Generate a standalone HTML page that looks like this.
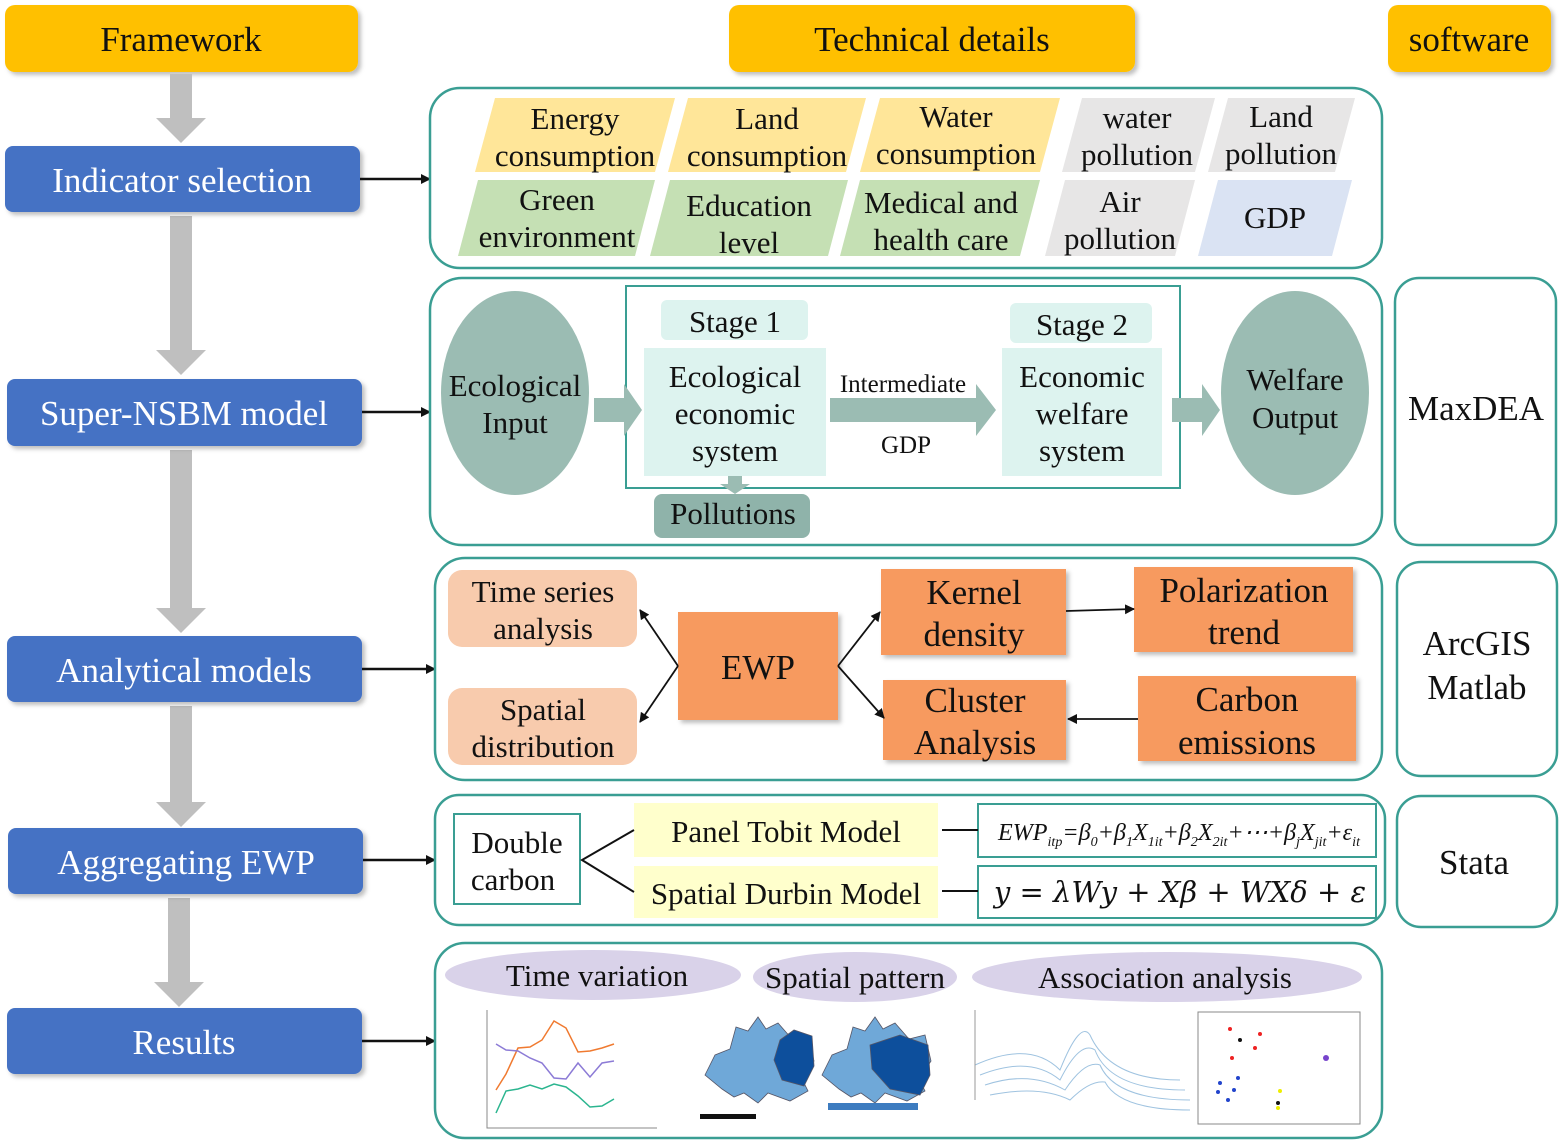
<!DOCTYPE html>
<html><head><meta charset="utf-8"><style>
html,body{margin:0;padding:0;background:#fff}
svg{display:block}
text{font-family:"Liberation Serif",serif;fill:#111}
.w{fill:#fff}
</style></head><body>
<svg width="1563" height="1142" viewBox="0 0 1563 1142" xmlns="http://www.w3.org/2000/svg">
<defs>
<marker id="ah" markerWidth="10" markerHeight="10" refX="9" refY="5" orient="auto" markerUnits="userSpaceOnUse"><path d="M0,0 L10,5 L0,10 z" fill="#111"/></marker>
<filter id="sh" x="-5%" y="-10%" width="115%" height="130%"><feDropShadow dx="3" dy="3" stdDeviation="2" flood-color="#000" flood-opacity="0.25"/></filter>
</defs>

<!-- headers -->
<rect x="5" y="5" width="353" height="67" rx="10" fill="#FFC000" filter="url(#sh)"/>
<text x="181" y="51" font-size="35" text-anchor="middle">Framework</text>
<rect x="729" y="5" width="406" height="67" rx="10" fill="#FFC000" filter="url(#sh)"/>
<text x="932" y="51" font-size="35" text-anchor="middle">Technical details</text>
<rect x="1388" y="5" width="163" height="67" rx="10" fill="#FFC000" filter="url(#sh)"/>
<text x="1469" y="51" font-size="35" text-anchor="middle">software</text>

<!-- gray down arrows -->
<g fill="#BFBFBF">
<path d="M170,74 h22 v44 h14 l-25,25 l-25,-25 h14 z"/>
<path d="M170,216 h22 v134 h14 l-25,25 l-25,-25 h14 z"/>
<path d="M170,450 h22 v158 h14 l-25,25 l-25,-25 h14 z"/>
<path d="M170,706 h22 v96 h14 l-25,25 l-25,-25 h14 z"/>
<path d="M168,898 h22 v84 h14 l-25,25 l-25,-25 h14 z"/>
</g>

<!-- left blue boxes -->
<g filter="url(#sh)" fill="#4472C4">
<rect x="5" y="146" width="355" height="66" rx="8"/>
<rect x="7" y="379" width="355" height="67" rx="8"/>
<rect x="7" y="636" width="355" height="66" rx="8"/>
<rect x="8" y="828" width="355" height="66" rx="8"/>
<rect x="7" y="1008" width="355" height="66" rx="8"/>
</g>
<g font-size="35" text-anchor="middle">
<text class="w" x="182" y="192">Indicator selection</text>
<text class="w" x="184" y="425">Super-NSBM model</text>
<text class="w" x="184" y="682">Analytical models</text>
<text class="w" x="186" y="874">Aggregating EWP</text>
<text class="w" x="184" y="1054">Results</text>
</g>

<!-- right arrows -->
<g stroke="#111" stroke-width="2.5" marker-end="url(#ah)">
<line x1="360" y1="179" x2="430" y2="179"/>
<line x1="362" y1="412" x2="430" y2="412"/>
<line x1="362" y1="669" x2="435" y2="669"/>
<line x1="363" y1="860" x2="435" y2="860"/>
<line x1="362" y1="1041" x2="435" y2="1041"/>
</g>

<!-- panel borders -->
<g fill="none" stroke="#3A9E93" stroke-width="2.5">
<rect x="430" y="88" width="952" height="180" rx="30"/>
<rect x="430" y="278" width="952" height="267" rx="32"/>
<rect x="435" y="558" width="947" height="222" rx="30"/>
<rect x="435" y="795" width="950" height="130" rx="24"/>
<rect x="435" y="943" width="947" height="195" rx="30"/>
<rect x="1395" y="278" width="161" height="267" rx="24"/>
<rect x="1397" y="562" width="160" height="214" rx="24"/>
<rect x="1397" y="796" width="160" height="131" rx="24"/>
</g>
<g font-size="35" text-anchor="middle">
<text x="1476" y="420">MaxDEA</text>
<text x="1477" y="655">ArcGIS</text>
<text x="1477" y="699">Matlab</text>
<text x="1474" y="874">Stata</text>
</g>

<!-- panel 1 parallelograms -->
<g>
<path d="M495,98 h180 l-20,74 h-180 z" fill="#FFE699"/>
<path d="M688,98 h178 l-20,74 h-178 z" fill="#FFE699"/>
<path d="M880,98 h180 l-20,74 h-180 z" fill="#FFE699"/>
<path d="M1082,98 h133 l-20,74 h-133 z" fill="#E7E6E6"/>
<path d="M1228,98 h127 l-20,74 h-127 z" fill="#E7E6E6"/>
<path d="M478,180 h177 l-20,76 h-177 z" fill="#C5E0B4"/>
<path d="M670,180 h178 l-20,76 h-178 z" fill="#C5E0B4"/>
<path d="M860,180 h180 l-20,76 h-180 z" fill="#C5E0B4"/>
<path d="M1065,180 h130 l-20,76 h-130 z" fill="#E7E6E6"/>
<path d="M1218,180 h134 l-20,76 h-134 z" fill="#DAE3F3"/>
</g>
<g font-size="31" text-anchor="middle">
<text x="575" y="129">Energy</text><text x="575" y="166">consumption</text>
<text x="767" y="129">Land</text><text x="767" y="166">consumption</text>
<text x="956" y="127">Water</text><text x="956" y="164">consumption</text>
<text x="1137" y="128">water</text><text x="1137" y="165">pollution</text>
<text x="1281" y="127">Land</text><text x="1281" y="164">pollution</text>
<text x="557" y="210">Green</text><text x="557" y="247">environment</text>
<text x="749" y="216">Education</text><text x="749" y="253">level</text>
<text x="941" y="213">Medical and</text><text x="941" y="250">health care</text>
<text x="1120" y="212">Air</text><text x="1120" y="249">pollution</text>
<text x="1275" y="228">GDP</text>
</g>

<!-- panel 2 -->
<rect x="626" y="286" width="554" height="202" fill="none" stroke="#3A9E93" stroke-width="2"/>
<ellipse cx="515" cy="393" rx="74" ry="102" fill="#9BBCB3"/>
<ellipse cx="1295" cy="393" rx="74" ry="102" fill="#9BBCB3"/>
<rect x="661" y="300" width="147" height="40" rx="6" fill="#DDF3EF"/>
<rect x="644" y="348" width="182" height="128" fill="#DDF3EF"/>
<rect x="1010" y="303" width="142" height="40" rx="6" fill="#DDF3EF"/>
<rect x="1002" y="348" width="160" height="128" fill="#DDF3EF"/>
<rect x="654" y="494" width="156" height="44" rx="8" fill="#8FB3AA"/>
<g fill="#9BBCB3">
<path d="M594,398 h30 v-14 l18,26 l-18,26 v-14 h-30 z"/>
<path d="M830,398 h146 v-14 l20,26 l-20,26 v-14 h-146 z"/>
<path d="M1172,398 h30 v-14 l18,26 l-18,26 v-14 h-30 z"/>
<path d="M728,476 h14 v8 h8 l-15,10 l-15,-10 h8 z"/>
</g>
<g font-size="31" text-anchor="middle">
<text x="515" y="396">Ecological</text><text x="515" y="433">Input</text>
<text x="1295" y="390">Welfare</text><text x="1295" y="428">Output</text>
<text x="735" y="332">Stage 1</text>
<text x="1082" y="335">Stage 2</text>
<text x="735" y="387">Ecological</text><text x="735" y="424">economic</text><text x="735" y="461">system</text>
<text x="1082" y="387">Economic</text><text x="1082" y="424">welfare</text><text x="1082" y="461">system</text>
<text x="733" y="524">Pollutions</text>
<text x="903" y="392" font-size="25">Intermediate</text>
<text x="906" y="453" font-size="25">GDP</text>
</g>

<!-- panel 3 -->
<rect x="448" y="570" width="189" height="77" rx="14" fill="#F8CBAD"/>
<rect x="448" y="688" width="189" height="77" rx="14" fill="#F8CBAD"/>
<g fill="#F79A5E" filter="url(#sh)">
<rect x="678" y="612" width="160" height="108"/>
<rect x="881" y="569" width="185" height="86"/>
<rect x="1134" y="567" width="219" height="85"/>
<rect x="883" y="680" width="183" height="80"/>
<rect x="1138" y="676" width="218" height="85"/>
</g>
<g stroke="#111" stroke-width="1.8" fill="none" marker-end="url(#ah)">
<path d="M678,666 L640,610"/>
<path d="M678,666 L640,722"/>
<path d="M838,666 L880,612"/>
<path d="M838,666 L884,718"/>
<path d="M1066,611 L1134,609"/>
<path d="M1138,719 L1068,719"/>
</g>
<g font-size="31" text-anchor="middle">
<text x="543" y="602">Time series</text><text x="543" y="639">analysis</text>
<text x="543" y="720">Spatial</text><text x="543" y="757">distribution</text>
<text x="758" y="679" font-size="35">EWP</text>
<text x="974" y="604" font-size="35">Kernel</text><text x="974" y="646" font-size="35">density</text>
<text x="1244" y="602" font-size="35">Polarization</text><text x="1244" y="644" font-size="35">trend</text>
<text x="975" y="712" font-size="35">Cluster</text><text x="975" y="754" font-size="35">Analysis</text>
<text x="1247" y="711" font-size="35">Carbon</text><text x="1247" y="754" font-size="35">emissions</text>
</g>

<!-- panel 4 -->
<rect x="454" y="814" width="126" height="90" fill="#fff" stroke="#3A9E93" stroke-width="2"/>
<rect x="634" y="803" width="304" height="54" fill="#FFFFCC"/>
<rect x="634" y="866" width="304" height="52" fill="#FFFFCC"/>
<rect x="978" y="804" width="398" height="53" fill="#fff" stroke="#3A9E93" stroke-width="2"/>
<rect x="978" y="866" width="398" height="52" fill="#fff" stroke="#3A9E93" stroke-width="2"/>
<g stroke="#111" stroke-width="2" fill="none">
<path d="M634,830 L582,860 L634,892"/>
<line x1="942" y1="830" x2="978" y2="830"/>
<line x1="942" y1="891" x2="978" y2="891"/>
</g>
<g font-size="31" text-anchor="middle">
<text x="517" y="853">Double</text><text x="513" y="890">carbon</text>
<text x="786" y="842">Panel Tobit Model</text>
<text x="786" y="904">Spatial Durbin Model</text>
</g>
<text x="998" y="840" font-size="24" font-style="italic" textLength="362" lengthAdjust="spacingAndGlyphs">EWP<tspan font-size="14" dy="6">itp</tspan><tspan dy="-6">=β</tspan><tspan font-size="14" dy="6">0</tspan><tspan dy="-6">+β</tspan><tspan font-size="14" dy="6">1</tspan><tspan dy="-6">X</tspan><tspan font-size="14" dy="6">1it</tspan><tspan dy="-6">+β</tspan><tspan font-size="14" dy="6">2</tspan><tspan dy="-6">X</tspan><tspan font-size="14" dy="6">2it</tspan><tspan dy="-6">+⋯+β</tspan><tspan font-size="14" dy="6">j</tspan><tspan dy="-6">X</tspan><tspan font-size="14" dy="6">jit</tspan><tspan dy="-6">+ε</tspan><tspan font-size="14" dy="6">it</tspan></text>
<text x="1180" y="902" font-size="29" font-style="italic" text-anchor="middle" style="font-family:'DejaVu Serif',serif">y = λWy + Xβ + WXδ + ε</text>

<!-- panel 5 -->
<ellipse cx="593" cy="975" rx="148" ry="25" fill="#D9D2E9"/>
<ellipse cx="855" cy="977" rx="102" ry="25" fill="#D9D2E9"/>
<ellipse cx="1167" cy="977" rx="195" ry="25" fill="#D9D2E9"/>
<g font-size="31" text-anchor="middle">
<text x="597" y="986">Time variation</text>
<text x="855" y="988">Spatial pattern</text>
<text x="1165" y="988">Association analysis</text>
</g>
<!-- line chart -->
<g fill="none" stroke-width="1.5">
<path d="M487,1010 V1128 H657" stroke="#888" stroke-width="1"/>
<polyline stroke="#2BB58F" points="496,1113 506,1091 518,1089 530,1085 542,1089 554,1084 566,1087 578,1096 590,1107 602,1106 614,1099"/>
<polyline stroke="#F07A30" points="496,1090 506,1074 518,1048 530,1047 542,1040 554,1021 566,1028 578,1052 590,1051 602,1048 614,1044"/>
<polyline stroke="#8C7BD6" points="496,1044 506,1050 518,1051 530,1058 542,1063 554,1078 566,1079 578,1063 590,1077 602,1063 614,1061"/>
</g>
<!-- maps -->
<g stroke="#556" stroke-width="0.8">
<path d="M705,1075 l10,-20 l15,-6 l6,-22 l12,4 l10,-14 l8,12 l12,-6 l14,16 l16,-4 l6,26 l-12,18 l6,12 l-18,10 l-22,-8 l-10,10 l-14,-10 l-10,4 l-12,-8 z" fill="#6FA8D8"/>
<path d="M780,1040 l14,-10 l18,6 l2,30 l-10,20 l-22,-6 l-8,-20 z" fill="#0D4F9C"/>
<path d="M822,1075 l10,-20 l15,-6 l6,-22 l12,4 l10,-14 l8,12 l12,-6 l14,16 l16,-4 l6,26 l-12,18 l6,12 l-18,10 l-22,-8 l-10,10 l-14,-10 l-10,4 l-12,-8 z" fill="#6FA8D8"/>
<path d="M870,1045 l30,-10 l28,10 l2,30 l-10,20 l-30,-6 l-18,-20 z" fill="#0D4F9C"/>
</g>
<rect x="700" y="1114" width="56" height="5" fill="#111"/>
<rect x="828" y="1103" width="90" height="7" fill="#3D7CC0"/>
<!-- 3D surface -->
<g fill="none" stroke="#9FC3E0" stroke-width="1">
<path d="M975,1065 Q1030,1040 1060,1070 Q1080,1020 1090,1035 Q1110,1080 1180,1080"/>
<path d="M980,1075 Q1030,1055 1060,1080 Q1080,1040 1095,1050 Q1110,1090 1185,1090"/>
<path d="M985,1085 Q1030,1070 1065,1090 Q1085,1060 1100,1065 Q1115,1100 1190,1100"/>
<path d="M990,1095 Q1040,1085 1070,1100 Q1090,1080 1105,1082 Q1120,1110 1190,1110"/>
<line x1="975" y1="1010" x2="975" y2="1100" stroke="#999"/>
</g>
<!-- scatter -->
<rect x="1198" y="1012" width="162" height="112" fill="none" stroke="#888" stroke-width="1"/>
<g>
<circle cx="1230" cy="1029" r="2" fill="#e22"/><circle cx="1260" cy="1034" r="2" fill="#e22"/>
<circle cx="1240" cy="1040" r="2" fill="#111"/><circle cx="1255" cy="1048" r="2" fill="#e22"/>
<circle cx="1232" cy="1058" r="2" fill="#e22"/><circle cx="1326" cy="1058" r="3" fill="#74c"/>
<circle cx="1238" cy="1078" r="2" fill="#24c"/><circle cx="1220" cy="1083" r="2" fill="#24c"/>
<circle cx="1234" cy="1090" r="2" fill="#24c"/><circle cx="1218" cy="1092" r="2" fill="#24c"/>
<circle cx="1280" cy="1091" r="2" fill="#ee0"/><circle cx="1278" cy="1103" r="2" fill="#111"/>
<circle cx="1278" cy="1108" r="2" fill="#ee0"/><circle cx="1228" cy="1100" r="2" fill="#24c"/>
</g>
</svg>
</body></html>
